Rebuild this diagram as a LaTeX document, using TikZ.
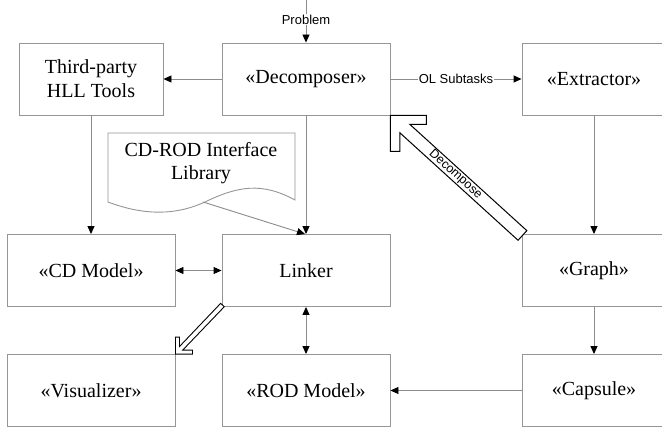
\documentclass[tikz,border=0pt]{standalone}
\usepackage{fontspec}
\setmainfont{Liberation Serif}
\setsansfont{Liberation Sans}
\usetikzlibrary{arrows.meta,calc}
\definecolor{boxgray}{RGB}{150,150,150}
\definecolor{linegray}{RGB}{140,140,140}
\begin{document}
\begin{tikzpicture}[x=1pt,y=-1pt,
 box/.style={draw=boxgray, line width=0.9pt, fill=white, minimum width=168pt, minimum height=72pt, inner sep=0pt, font=\fontsize{20}{24}\selectfont, align=center},
 narrow/.style={box, minimum width=144pt},
 tip/.style={Triangle[length=8pt,width=7pt,color=black]},
 conn/.style={draw=linegray, line width=0.9pt, -{Triangle[length=8pt,width=7pt,color=black]}},
 both/.style={draw=linegray, line width=0.9pt, {Triangle[length=8pt,width=7pt,color=black]}-{Triangle[length=8pt,width=7pt,color=black]}},
 lbl/.style={font=\sffamily\fontsize{13}{15}\selectfont, fill=white, inner sep=1pt},
 hollow/.style={draw=black, line width=1pt, fill=white, line join=miter}
]
\useasboundingbox (0,0) rectangle (662,428);
\clip (0,0) rectangle (662,428);
\fill[white] (0,0) rectangle (662,428);

% boxes
\node[narrow] (tp) at (91,79) {Third-party\\HLL Tools};
\node[box] (dec) at (306,79) {«Decomposer»};
\node[narrow] (ext) at (594,79) {«Extractor»};
\node[box] (cd) at (91,270.5) {«CD Model»};
\node[box] (link) at (306,270.5) {Linker};
\node[narrow] (graph) at (594,270.5) {«Graph»};
\node[box] (vis) at (91,390.5) {«Visualizer»};
\node[box] (rod) at (306,390.5) {«ROD Model»};
\node[narrow] (cap) at (594,390.5) {«Capsule»};

% document shape
\draw[draw=boxgray, line width=0.9pt, fill=white] (108,133) -- (295,133) -- (295,200)
  .. controls (262,182) and (238,186) .. (205,202)
  .. controls (172,217) and (140,214) .. (108,202) -- cycle;
\node[font=\fontsize{20}{23}\selectfont, align=center] (doc) at (201,163) {CD-ROD Interface\\Library};
\coordinate (docout) at (203,202);
\coordinate (top) at (306,0);

% connectors
\draw[conn] (top) -- node[lbl, pos=0.46] {Problem} (dec.north);
\draw[conn] (dec.west) -- (tp.east);
\draw[conn] (dec.east) -- node[lbl] {OL Subtasks} (ext.west);
\draw[conn] (dec.south) -- (link.north);
\draw[conn] (docout) -- ($(link.north)+(-1,0)$);
\draw[conn] (tp.south) -- (cd.north);
\draw[both] (cd.east) -- (link.west);
\draw[both] (link.south) -- (rod.north);
\draw[conn] (ext.south) -- (graph.north);
\draw[conn] (graph.south) -- (cap.north);
\draw[conn] (cap.west) -- (rod.east);

% hollow arrow: Graph -> Decomposer
\begin{scope}[shift={(dec.south east)}]
\draw[hollow] (0,0) -- (36,0) -- (36,9) -- (19.5,9) -- (136.4,115.2) -- (127.6,124.8)
  -- (9.5,17.4) -- (9.5,36) -- (0,36) -- cycle;
\node[font=\sffamily\fontsize{12.5}{14}\selectfont, rotate=-42.2, inner sep=0pt] (declbl) at (65,59) {Decompose};
\end{scope}

% hollow arrow: Linker -> Visualizer
\begin{scope}[shift={(vis.north east)}]
\draw[hollow, line width=0.9pt] (0,0) -- (0,-17) -- (4,-17) -- (4,-7.5) -- (45.2,-50.7) -- (48.8,-47.3)
  -- (7.3,-4) -- (17,-4) -- (17,0) -- cycle;
\end{scope}
\end{tikzpicture}
\end{document}
